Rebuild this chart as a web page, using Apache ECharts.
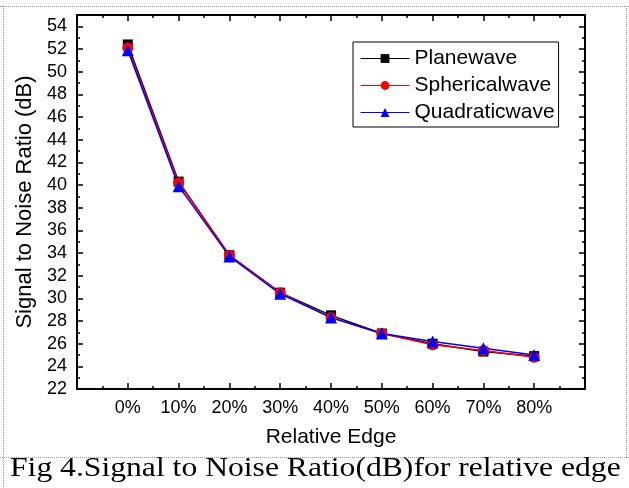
<!DOCTYPE html>
<html>
<head>
<meta charset="utf-8">
<script src="https://cdn.jsdelivr.net/npm/echarts@6/dist/echarts.min.js"></script>
<style>
  html, body { margin: 0; padding: 0; background: #fff; }
  #chart { width: 629px; height: 488px; }
</style>
</head>
<body>
<div id="chart"></div>
<script>
// x positions (relative edge, %) and their labels
const xValues = [0, 10, 20, 30, 40, 50, 60, 70, 80];
const categories = ['0%', '10%', '20%', '30%', '40%', '50%', '60%', '70%', '80%'];

// SNR values (dB)
const planeWave = [52.4, 40.3, 33.8, 30.5, 28.5, 26.9, 26.0, 25.3, 24.9];
const sphericalWave = [52.1, 40.2, 33.8, 30.5, 28.3, 26.9, 25.9, 25.4, 24.8];
const quadraticWave = [51.9, 39.9, 33.7, 30.4, 28.3, 26.9, 26.2, 25.6, 25.0];

const font = 'Liberation Sans, Arial, sans-serif';

const pairs = (vals) => vals.map((v, i) => [xValues[i], v]);

const xLabel = (v) => {
    const i = xValues.indexOf(v);
    return i >= 0 ? categories[i] : '';
};

const frameLine = { show: true, onZero: false, lineStyle: { color: '#000', width: 2 } };
const tickIn = { show: true, inside: true, length: 6, lineStyle: { color: '#000', width: 1.5 } };
const minorIn = { show: true, splitNumber: 2, length: 3, lineStyle: { color: '#000', width: 1.5 } };

const dotted = { stroke: '#9a9a9a', lineWidth: 1, lineDash: [1, 1] };

const option = {
    animation: false,
    backgroundColor: '#fff',
    grid: { left: 77, right: 44, top: 15, bottom: 99 },
    legend: {
        orient: 'vertical',
        left: 353,
        top: 42,
        padding: [6, 4, 4, 7],
        itemGap: 6,
        itemWidth: 49,
        itemHeight: 11,
        borderColor: '#000',
        borderWidth: 1,
        lineStyle: { width: 1 },
        textStyle: { fontFamily: font, fontSize: 21, color: '#000' },
        data: ['Planewave', 'Sphericalwave', 'Quadraticwave']
    },
    xAxis: [
        {
            type: 'value',
            min: -10, max: 90, interval: 10,
            name: 'Relative Edge',
            nameLocation: 'middle',
            nameGap: 38,
            nameTextStyle: { fontFamily: font, fontSize: 21, color: '#000' },
            axisLine: frameLine,
            axisTick: tickIn,
            minorTick: minorIn,
            splitLine: { show: false },
            axisLabel: { formatter: xLabel, fontFamily: font, fontSize: 18, color: '#000', margin: 10 }
        },
        {
            type: 'value', position: 'top',
            min: -10, max: 90, interval: 10,
            axisLine: frameLine,
            axisTick: tickIn,
            minorTick: minorIn,
            splitLine: { show: false },
            axisLabel: { show: false }
        }
    ],
    yAxis: [
        {
            type: 'value',
            min: 22, max: 55, interval: 2,
            name: 'Signal to Noise Ratio (dB)',
            nameLocation: 'middle',
            nameGap: 36,
            nameTextStyle: { fontFamily: font, fontSize: 22, color: '#000' },
            axisLine: frameLine,
            axisTick: tickIn,
            minorTick: minorIn,
            splitLine: { show: false },
            axisLabel: { showMaxLabel: false, fontFamily: font, fontSize: 18, color: '#000', margin: 10 }
        },
        {
            type: 'value', position: 'right',
            min: 22, max: 55, interval: 2,
            axisLine: frameLine,
            axisTick: tickIn,
            minorTick: minorIn,
            splitLine: { show: false },
            axisLabel: { show: false }
        }
    ],
    series: [
        {
            name: 'Planewave', type: 'line', data: pairs(planeWave),
            symbol: 'rect', symbolSize: 10,
            itemStyle: { color: '#000' },
            lineStyle: { color: '#000', width: 1.5 }
        },
        {
            name: 'Sphericalwave', type: 'line', data: pairs(sphericalWave),
            symbol: 'circle', symbolSize: 11,
            itemStyle: { color: '#ff0000' },
            lineStyle: { color: '#ff0000', width: 1.5 }
        },
        {
            name: 'Quadraticwave', type: 'line', data: pairs(quadraticWave),
            symbol: 'triangle', symbolSize: 12,
            itemStyle: { color: '#0000ff' },
            lineStyle: { color: '#0000ff', width: 1.5 }
        }
    ],
    graphic: [
        { type: 'line', shape: { x1: 0, y1: 6.5, x2: 629, y2: 6.5 }, style: dotted, silent: true },
        { type: 'line', shape: { x1: 3.5, y1: 6, x2: 3.5, y2: 488 }, style: dotted, silent: true },
        { type: 'line', shape: { x1: 626.5, y1: 6, x2: 626.5, y2: 458 }, style: dotted, silent: true },
        { type: 'line', shape: { x1: 0, y1: 457.5, x2: 629, y2: 457.5 }, style: dotted, silent: true },
        {
            type: 'text', x: 10, y: 455, scaleX: 1.13,
            style: {
                text: 'Fig 4.Signal to Noise Ratio(dB)for relative edge',
                fontFamily: 'Liberation Serif, serif', fontSize: 28, fill: '#000'
            }
        }
    ]
};

const chart = echarts.init(document.getElementById('chart'));
chart.setOption(option);
</script>
</body>
</html>
